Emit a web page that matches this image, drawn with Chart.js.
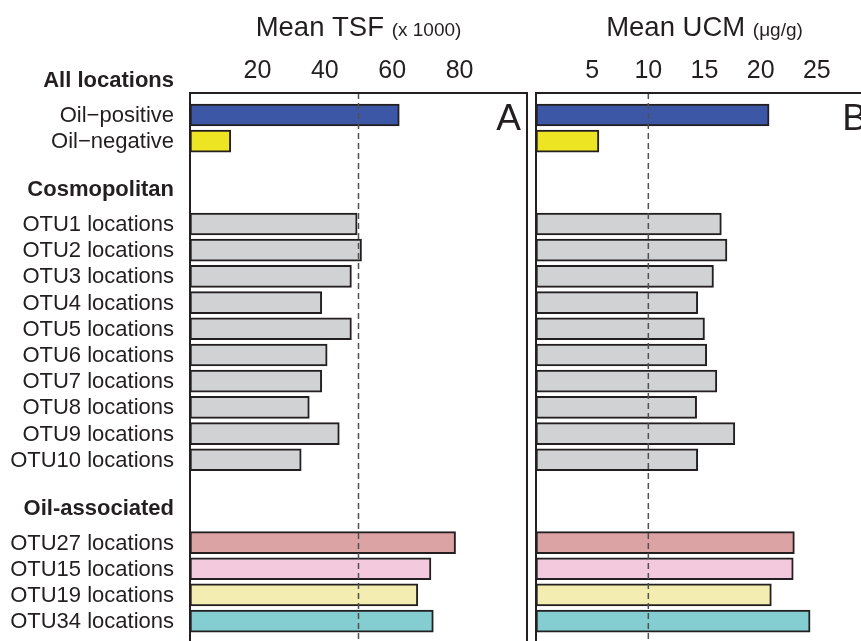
<!DOCTYPE html>
<html>
<head>
<meta charset="utf-8">
<script src="https://cdn.jsdelivr.net/npm/chart.js@4.4.0/dist/chart.umd.min.js"></script>
<style>
    html, body { margin: 0; padding: 0; background: #fff; overflow: hidden; width: 861px; height: 641px; }
    #panelA { position: absolute; left: 0; top: 0; }
    #panelB { position: absolute; left: 527px; top: 0; }
</style>
</head>
<body>
<canvas id="panelA" width="540" height="700"></canvas>
<canvas id="panelB" width="360" height="700"></canvas>
<script>
// Datos del gráfico
const grupos = ['All locations', 'Cosmopolitan', 'Oil-associated'];
const tamGrupos = [2, 10, 4];
const categorias = [
    'Oil\u2212positive', 'Oil\u2212negative',
    'OTU1 locations', 'OTU2 locations', 'OTU3 locations', 'OTU4 locations', 'OTU5 locations',
    'OTU6 locations', 'OTU7 locations', 'OTU8 locations', 'OTU9 locations', 'OTU10 locations',
    'OTU27 locations', 'OTU15 locations', 'OTU19 locations', 'OTU34 locations'
];
const tsf = [62.1, 12.1, 49.6, 50.9, 47.9, 39.1, 47.9, 40.7, 39.1, 35.4, 44.3, 33.0, 78.8, 71.5, 67.6, 72.2];
const ucm = [20.75, 5.6, 16.5, 17.0, 15.8, 14.4, 15.0, 15.2, 16.1, 14.3, 17.7, 14.4, 23.0, 22.9, 20.95, 24.4];
const ticksTsf = [20, 40, 60, 80];
const ticksUcm = [5, 10, 15, 20, 25];

// Colores de las barras
const gris = '#d1d2d4';
const colores = ['#3b57a6', '#ede523', gris, gris, gris, gris, gris, gris, gris, gris, gris, gris,
    '#dba3a4', '#f2c9dd', '#f3edb1', '#84cdd0'];

const fuente = "'Liberation Sans', Arial, Helvetica, sans-serif";
const tinta = '#231f20';

// Posiciones de filas (separación extra entre grupos)
const posiciones = [];
const posGrupos = [];
let p = 0;
tamGrupos.forEach((n, g) => {
    if (g > 0) p += 3.16 - 1;
    posGrupos.push(p - 1.33);
    for (let i = 0; i < n; i++) { posiciones.push(p); p++; }
});

// Plugin para marco, línea de referencia, títulos y etiquetas
const decoracion = {
    id: 'decoracion',
    afterDatasetsDraw(chart, args, o) {
        const { ctx, chartArea: a, scales } = chart;
        ctx.save();
        // línea punteada
        const xr = scales.x.getPixelForValue(o.referencia);
        ctx.strokeStyle = '#505052';
        ctx.lineWidth = 1.5;
        ctx.setLineDash([6, 4]);
        ctx.beginPath();
        ctx.moveTo(xr, a.top);
        ctx.lineTo(xr, a.bottom);
        ctx.stroke();
        ctx.setLineDash([]);
        // marco
        ctx.strokeStyle = tinta;
        ctx.lineWidth = 2;
        ctx.strokeRect(a.left, a.top, a.right - a.left, a.bottom - a.top);
        // letra del panel
        ctx.fillStyle = tinta;
        ctx.font = '37px ' + fuente;
        ctx.textAlign = 'right';
        ctx.textBaseline = 'alphabetic';
        ctx.fillText(o.letra, a.right - 6, 130);
        // título del eje
        ctx.font = '27.5px ' + fuente;
        const w1 = ctx.measureText(o.titulo + ' ').width;
        ctx.font = '19px ' + fuente;
        const w2 = ctx.measureText(o.unidad).width;
        const x0 = (a.left + a.right) / 2 - (w1 + w2) / 2;
        ctx.textAlign = 'left';
        ctx.font = '27.5px ' + fuente;
        ctx.fillText(o.titulo + ' ', x0, 36);
        ctx.font = '19px ' + fuente;
        ctx.fillText(o.unidad, x0 + w1, 36);
        // etiquetas de categorías
        if (o.etiquetas) {
            const y = scales.y;
            ctx.textAlign = 'right';
            ctx.textBaseline = 'middle';
            ctx.font = 'bold 22px ' + fuente;
            grupos.forEach((g, i) => ctx.fillText(g, 174, y.getPixelForValue(posGrupos[i]) + 1));
            ctx.font = '22px ' + fuente;
            categorias.forEach((c, i) => ctx.fillText(c, 174, y.getPixelForValue(posiciones[i]) + 1));
        }
        ctx.restore();
    }
};

// Función para crear cada panel
function crearPanel(id, valores, maximo, paso, visibles, opcionesDeco, padding) {
    const ctx = document.getElementById(id).getContext('2d');
    return new Chart(ctx, {
        type: 'bar',
        data: {
            datasets: [{
                data: valores.map((v, i) => ({ x: v, y: posiciones[i] })),
                backgroundColor: colores,
                borderColor: tinta,
                borderWidth: 2,
                borderSkipped: false,
                barThickness: 22
            }]
        },
        options: {
            indexAxis: 'y',
            responsive: false,
            animation: false,
            layout: { padding: padding },
            scales: {
                x: {
                    type: 'linear',
                    position: 'top',
                    min: 0,
                    max: maximo,
                    offset: false,
                    grid: { display: false, drawTicks: false },
                    border: { display: false },
                    afterFit: s => { s.height = 38; },
                    ticks: {
                        stepSize: paso,
                        padding: 7,
                        color: tinta,
                        font: { family: fuente, size: 25 },
                        callback: v => visibles.includes(v) ? String(v) : ''
                    }
                },
                y: {
                    type: 'linear',
                    reverse: true,
                    offset: false,
                    min: -0.84,
                    max: 22.33,
                    display: false
                }
            },
            plugins: {
                legend: { display: false },
                tooltip: { enabled: false },
                decoracion: opcionesDeco
            }
        },
        plugins: [decoracion]
    });
}

document.addEventListener('DOMContentLoaded', function () {
    crearPanel('panelA', tsf, 100, 20, ticksTsf,
        { referencia: 50, letra: 'A', titulo: 'Mean TSF', unidad: '(x 1000)', etiquetas: true },
        { top: 55, left: 190, right: 13, bottom: 0 });
    crearPanel('panelB', ucm, 30, 5, ticksUcm,
        { referencia: 10, letra: 'B', titulo: 'Mean UCM', unidad: '(\u03bcg/g)', etiquetas: false },
        { top: 55, left: 9, right: 14, bottom: 0 });
});
</script>
</body>
</html>
